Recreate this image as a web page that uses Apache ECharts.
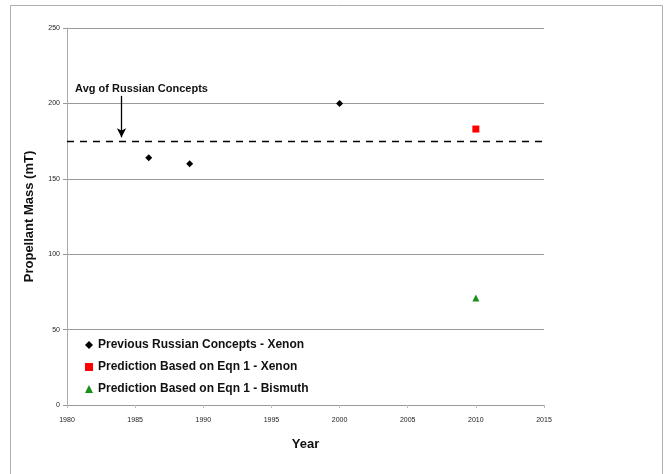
<!DOCTYPE html>
<html><head><meta charset="utf-8">
<script src="https://cdn.jsdelivr.net/npm/echarts@6/dist/echarts.min.js"></script>
<style>html,body{margin:0;padding:0;background:#fff}#c{width:669px;height:474px}</style>
</head><body><div id="c"></div>
<script>
const russianYears = [1986, 1989, 2000];
const russianMass = [164, 160, 200];
const xenonPred = [[2010, 183]];
const bismuthPred = [[2010, 71]];
const avgRussian = 174.7;
const xTicks = [1980, 1985, 1990, 1995, 2000, 2005, 2010, 2015];
const yTicks = [0, 50, 100, 150, 200, 250];
const seriesNames = ['Previous Russian Concepts - Xenon', 'Prediction Based on Eqn 1 - Xenon', 'Prediction Based on Eqn 1 - Bismuth'];
const annotation = 'Avg of Russian Concepts';
const arrowX = 1984, arrowTop = 205, arrowBottom = 177.5;

const font = '"Liberation Sans", Arial, sans-serif';
const chart = echarts.init(document.getElementById('c'), null, {renderer: 'canvas'});
chart.setOption({
  animation: false,
  backgroundColor: '#fff',
  graphic: [{type: 'rect', shape: {x: 10.5, y: 5.5, width: 652, height: 475}, style: {fill: 'none', stroke: '#b0b0b0', lineWidth: 1}}],
  grid: {left: 67, right: 125, top: 28, bottom: 69},
  legend: {
    orient: 'vertical', left: 80, top: 334, itemGap: 10, itemWidth: 8, itemHeight: 8,
    textStyle: {fontFamily: font, fontWeight: 'bold', fontSize: 12, color: '#111'},
    data: seriesNames
  },
  xAxis: {
    type: 'value', min: 1980, max: 2015, interval: 5,
    name: 'Year', nameLocation: 'middle', nameGap: 33,
    nameTextStyle: {fontFamily: font, fontWeight: 'bold', fontSize: 13, color: '#111'},
    axisLine: {lineStyle: {color: '#999'}},
    axisTick: {show: true, length: 3, lineStyle: {color: '#bbb'}},
    axisLabel: {fontFamily: font, fontSize: 7, color: '#222', margin: 12, formatter: v => String(v)},
    splitLine: {show: false}
  },
  yAxis: {
    type: 'value', min: 0, max: 250, interval: 50,
    name: 'Propellant Mass (mT)', nameLocation: 'middle', nameGap: 31,
    nameTextStyle: {fontFamily: font, fontWeight: 'bold', fontSize: 13, color: '#111'},
    axisLine: {show: true, lineStyle: {color: '#aaa'}},
    axisTick: {show: true, length: 4, lineStyle: {color: '#999'}},
    axisLabel: {fontFamily: font, fontSize: 7, color: '#222', margin: 7},
    splitLine: {show: true, lineStyle: {color: '#999', width: 1}}
  },
  series: [
    {
      name: seriesNames[0], type: 'scatter', symbol: 'diamond', symbolSize: 7,
      itemStyle: {color: '#000', opacity: 1},
      data: russianYears.map((y, i) => [y, russianMass[i]]),
      markLine: {
        silent: true,
        symbol: 'none',
        label: {show: false},
        data: [
          {yAxis: avgRussian, symbol: 'none', lineStyle: {type: [7, 6], color: '#000', width: 1.3}},
          [
            {coord: [arrowX, arrowTop], symbol: 'none'},
            {coord: [arrowX, arrowBottom], symbol: 'arrow', symbolSize: [7, 9]}
          ]
        ],
        lineStyle: {color: '#000', type: 'solid', width: 1.3}
      },
      markPoint: {
        silent: true,
        symbol: 'circle', symbolSize: 0,
        data: [{coord: [arrowX, arrowTop], value: annotation}],
        label: {show: true, position: 'top', distance: 1, offset: [20, 0], formatter: annotation, fontFamily: font, fontWeight: 'bold', fontSize: 11, color: '#111'}
      }
    },
    {name: seriesNames[1], type: 'scatter', symbol: 'rect', symbolSize: 7, itemStyle: {color: '#ff0000', opacity: 1}, data: xenonPred},
    {name: seriesNames[2], type: 'scatter', symbol: 'triangle', symbolSize: 7, itemStyle: {color: '#1a8f1a', opacity: 1}, data: bismuthPred}
  ]
});
</script></body></html>
